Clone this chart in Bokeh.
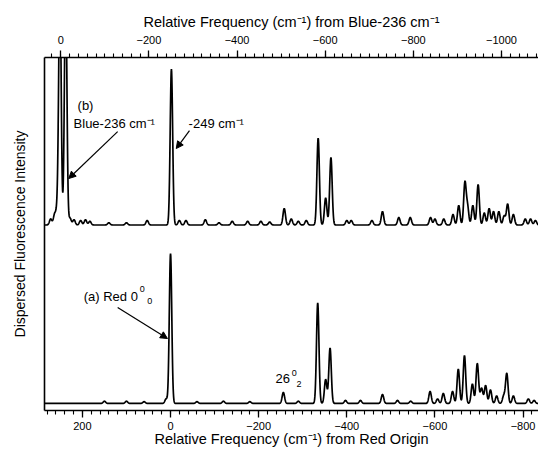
import numpy as np
from bokeh.plotting import figure
from bokeh.models import (Range1d, LinearAxis, SingleIntervalTicker, FixedTicker,
                          Label, Arrow, NormalHead)
from bokeh.embed import file_html
from bokeh.resources import INLINE

# ---- data (frequency in cm-1 relative to Red origin) ----
red_pos = [0, 10, -256, -334, -352, -362, -397, -431, -481, -515, -589, -606, -619,
           -640, -653, -667, -685, -696, -706, -715, -726, -740, -756, -763, -778, -812,
           150, 100, 60, -60, -120, -180, -290, -545, -700, -825]
red_amp = [1.0, 0.03, 0.073, 0.67, 0.16, 0.37, 0.02, 0.02, 0.06, 0.02, 0.08, 0.03, 0.067,
           0.08, 0.23, 0.32, 0.13, 0.26, 0.10, 0.12, 0.09, 0.05, 0.05, 0.20, 0.05, 0.03,
           0.015, 0.015, 0.012, 0.012, 0.015, 0.012, 0.015, 0.015, 0.02, 0.02]

blue_pos = [272, 263, 257, 251, 238, 228, 219, 204, 193, 183, 140, 100, 53, -2, -20,
            -35, -79, -110, -140, -175, -205, -225, -258, -274, -290, -308, -335, -352,
            -364, -400, -410, -457, -481, -518, -544, -590, -600, -620, -641, -654, -668,
            -674, -686, -698, -712, -723, -733, -745, -757, -765, -778, -805, -817, -828]
blue_amp = [0.04, 0.07, 0.10, 1.6, 1.6, 0.045, 0.035, 0.03, 0.035, 0.025, 0.015, 0.015,
            0.03, 1.04, 0.03, 0.03, 0.035, 0.015, 0.025, 0.025, 0.025, 0.02, 0.11, 0.04,
            0.025, 0.03, 0.58, 0.18, 0.45, 0.03, 0.03, 0.03, 0.09, 0.05, 0.05, 0.05, 0.04,
            0.04, 0.07, 0.13, 0.28, 0.12, 0.13, 0.27, 0.08, 0.11, 0.09, 0.09, 0.06, 0.14,
            0.07, 0.04, 0.04, 0.03]
blue_offset = 1.19
blue_shift = 249          # top-axis value = bottom value - 249

bottom_title = "Relative Frequency (cm\u207b\u00b9) from Red Origin"
top_title = "Relative Frequency (cm\u207b\u00b9) from Blue-236 cm\u207b\u00b9"
y_title = "Dispersed Fluorescence Intensity"

peak_sigma = 2.8

x = np.arange(290.0, -841.0, -0.5)


def spectrum(pos, amp):
    y = np.zeros_like(x)
    for c, a in zip(pos, amp):
        y += a * np.exp(-0.5 * ((x - c) / peak_sigma) ** 2)
    return y


red_y = spectrum(red_pos, red_amp)
blue_y = spectrum(blue_pos, blue_amp) + blue_offset

FONT = "Liberation Sans"

p = figure(width=538, height=451, output_backend="svg", toolbar_location=None,
           x_range=Range1d(286, -835), y_range=Range1d(-0.047, 2.307),
           min_border_left=44, min_border_right=0, min_border_top=57,
           min_border_bottom=41)
p.outline_line_color = None
p.xgrid.visible = False
p.ygrid.visible = False
p.background_fill_color = "white"

p.extra_x_ranges = {"top": Range1d(286 - blue_shift, -835 - blue_shift)}

xa = p.xaxis[0]
xa.ticker = SingleIntervalTicker(interval=200, num_minor_ticks=10)
xa.axis_label = bottom_title

top = LinearAxis(x_range_name="top",
                 ticker=SingleIntervalTicker(interval=200, num_minor_ticks=10),
                 axis_label=top_title)
p.add_layout(top, "above")

for ax in (xa, top):
    ax.axis_line_color = "black"
    ax.axis_line_width = 1.6
    ax.major_tick_line_color = "black"
    ax.minor_tick_line_color = "black"
    ax.major_tick_line_width = 1.3
    ax.minor_tick_line_width = 1.1
    ax.major_tick_in = 0
    ax.major_tick_out = 7
    ax.minor_tick_in = 0
    ax.minor_tick_out = 4
    ax.major_label_text_font = FONT
    ax.major_label_text_font_size = "11px"
    ax.major_label_text_color = "black"
    ax.axis_label_text_font = FONT
    ax.axis_label_text_font_size = "14.5px"
    ax.axis_label_text_font_style = "normal"
    ax.axis_label_text_color = "black"
xa.major_label_standoff = 4
xa.axis_label_standoff = -2
top.major_label_standoff = 7
top.axis_label_standoff = 3

ya = p.yaxis[0]
ya.ticker = FixedTicker(ticks=[])
ya.major_tick_out = 0
ya.minor_tick_out = 0
ya.major_tick_line_color = None
ya.minor_tick_line_color = None
ya.axis_line_color = "black"
ya.axis_line_width = 1.6
ya.axis_label = y_title
ya.axis_label_text_font = FONT
ya.axis_label_text_font_size = "14px"
ya.axis_label_text_font_style = "normal"
ya.axis_label_text_color = "black"
ya.axis_label_standoff = 17

p.line(x, red_y, line_color="black", line_width=1.7)
p.line(x, blue_y, line_color="black", line_width=1.7)


def lab(xv, yv, text, size="13px"):
    p.add_layout(Label(x=xv, y=yv, text=text, text_font=FONT, text_font_size=size,
                       text_color="black", text_baseline="middle", text_align="left"))


def arrow(x0, y0, x1, y1):
    p.add_layout(Arrow(end=NormalHead(size=7, fill_color="black", line_color="black"),
                       x_start=x0, y_start=y0, x_end=x1, y_end=y1,
                       line_color="black", line_width=1.2))


lab(211, 1.987, "(b)")
lab(220, 1.867, "Blue-236 cm\u207b\u00b9")
arrow(120, 1.813, 231, 1.50)
lab(-41, 1.867, "-249 cm\u207b\u00b9")
arrow(-43, 1.82, -13, 1.70)

lab(197, 0.713, "(a) Red 0")
lab(70, 0.76, "0", "9px")
lab(53, 0.68, "0", "9px")
arrow(120, 0.64, 7, 0.433)

lab(-238, 0.167, "26")
lab(-275, 0.20, "0", "9px")
lab(-286, 0.13, "2", "9px")

open("out.html", "w").write(file_html(p, INLINE))
